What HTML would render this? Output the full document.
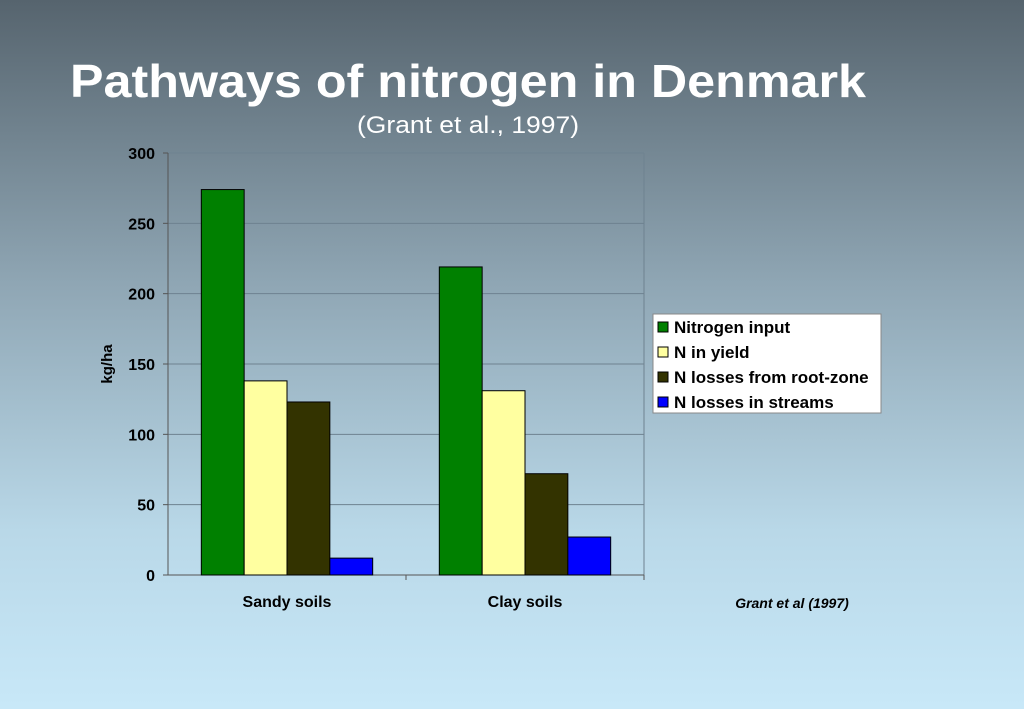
<!DOCTYPE html>
<html style="margin:0;background:#c8e8f8;"><head><meta charset="utf-8"><style>
body{margin:0;width:1024px;height:709px;overflow:hidden;background:linear-gradient(#56646e 0%,#8fa6b4 40%,#b9d8e8 75%,#c8e8f8 100%);font-family:"Liberation Sans",sans-serif;}
svg{display:block;}
</style></head><body>
<svg width="1024" height="709">
<text x="70" y="97" font-size="46" font-weight="bold" fill="#fff" textLength="796" lengthAdjust="spacingAndGlyphs">Pathways of nitrogen in Denmark</text>
<text x="357" y="133" font-size="24" fill="#fff" textLength="222" lengthAdjust="spacingAndGlyphs">(Grant et al., 1997)</text>
<g id="plot"></g>
<text x="112" y="364" font-size="15" font-weight="bold" fill="#000" text-anchor="middle" transform="rotate(-90 112 364)">kg/ha</text>
<g>
<rect x="653" y="314" width="228" height="99" fill="#fff" stroke="#888"/>
<g id="leg"></g>
</g>
<text x="792" y="608" font-size="14" font-weight="bold" font-style="italic" fill="#000" text-anchor="middle">Grant et al (1997)</text>
</svg>
<script>
const categories=["Sandy soils","Clay soils"];
const seriesNames=["Nitrogen input","N in yield","N losses from root-zone","N losses in streams"];
const nitrogenInput=[274,219];
const nInYield=[138,131];
const nLossesRootZone=[123,72];
const nLossesStreams=[12,27];
const yTicks=[0,50,100,150,200,250,300];
const colors=["#008000","#ffffa0","#333300","#0000ff"];
const series=[nitrogenInput,nInYield,nLossesRootZone,nLossesStreams];
const ns="http://www.w3.org/2000/svg";
const X0=168,X1=644,Y0=575,Y1=153,ymax=300;
const y=v=>Y0-(v/ymax)*(Y0-Y1);
const cw=(X1-X0)/categories.length;
const g=document.getElementById('plot');
function mk(t,a,p){const e=document.createElementNS(ns,t);for(const k in a)e.setAttribute(k,a[k]);(p||g).appendChild(e);return e;}
yTicks.forEach(t=>{
 if(t>0){const l=mk('line',{x1:X0,x2:X1,y1:y(t),y2:y(t),stroke:'#6e8290','stroke-width':1});
 
 }
 mk('line',{x1:X0-5,x2:X0,y1:y(t),y2:y(t),stroke:'#555'});
 const tx=mk('text',{x:X0-13,y:y(t)+6,'font-size':16,'font-weight':'bold','text-anchor':'end',fill:'#000'});
 tx.textContent=t;
 
 
});
mk('line',{x1:X1,x2:X1,y1:Y1,y2:Y0,stroke:'#6e8290'});
mk('line',{x1:X0,x2:X0,y1:Y1,y2:Y0,stroke:'#555'});
mk('line',{x1:X0,x2:X1,y1:Y0,y2:Y0,stroke:'#555'});
const bw=cw*0.18,off=cw*0.14;
categories.forEach((c,i)=>{
 const cx=X0+cw*i;
 mk('line',{x1:cx+cw,x2:cx+cw,y1:Y0,y2:Y0+5,stroke:'#555'});
 series.forEach((s,j)=>{
  const r=mk('rect',{x:cx+off+j*bw,y:y(s[i]),width:bw,height:Y0-y(s[i]),fill:colors[j],stroke:'#000','stroke-width':1});
  
  
 });
 const t=mk('text',{x:cx+cw/2,y:607,'font-size':16,'font-weight':'bold','text-anchor':'middle',fill:'#000'});
 t.textContent=c;
 
 
});
const lg=document.getElementById('leg');
seriesNames.forEach((n,j)=>{
 const yy=328+j*25;
 mk('rect',{x:658,y:yy-6,width:10,height:10,fill:colors[j],stroke:'#000'},lg);
 const t=mk('text',{x:674,y:yy+5,'font-size':17,'font-weight':'bold',fill:'#000'},lg);
 t.textContent=n;
 
 
});
</script>
</body></html>
